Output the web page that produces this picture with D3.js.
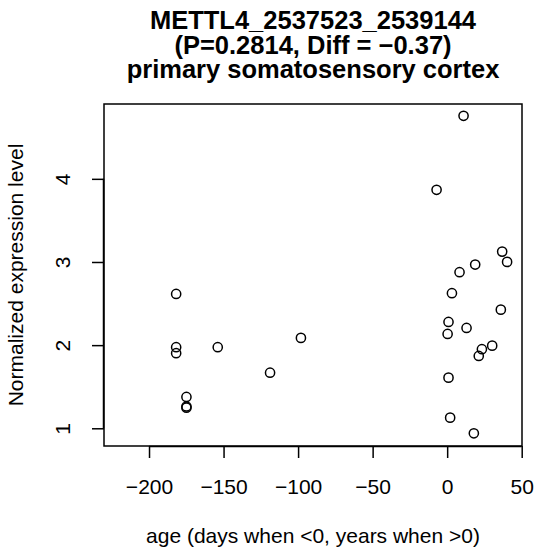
<!DOCTYPE html>
<html><head><meta charset="utf-8">
<script src="https://cdn.jsdelivr.net/npm/d3@7"></script>
<style>body{margin:0;background:#fff}svg{display:block}text{font-family:"Liberation Sans",Arial,sans-serif;fill:#000}</style>
</head><body>
<script>
const ageValues = [-181.8,-181.8,-181.8,-153.9,-98.1,-118.8,-174.9,-174.9,-174.9,
  11.0,-7.1,36.9,40.2,18.8,8.3,3.2,36.0,0.9,13.0,0.3,30.2,23.3,21.2,0.9,2.0,17.9];
const exprValues = [2.616,1.975,1.903,1.975,2.087,1.669,1.377,1.262,1.248,
  4.758,3.868,3.125,3.001,2.969,2.877,2.625,2.427,2.279,2.207,2.135,1.994,1.951,1.870,1.609,1.128,0.940];
const xTicks = [-200,-150,-100,-50,0,50];
const yTicks = [1,2,3,4];
const titleLines = ["METTL4_2537523_2539144","(P=0.2814, Diff = \u22120.37)","primary somatosensory cortex"];
const xLabel = "age (days when <0, years when >0)";
const yLabel = "Normalized expression level";

const W=536,H=555, L=104,R=522,T=104,B=446;
const FS="21px", FF="Liberation Sans, Arial, sans-serif";
const svg=d3.select("body").append("svg").attr("width",W).attr("height",H);
const x=d3.scaleLinear().domain([-230.2,50.2]).range([L,R]);
const y=d3.scaleLinear().domain([0.787,4.90]).range([B,T]);
const fmt=d=>String(d).replace("-","\u2212");

svg.append("rect").attr("x",L).attr("y",T).attr("width",R-L).attr("height",B-T)
  .attr("fill","none").attr("stroke","#000").attr("stroke-width",1.5);

const xa=svg.append("g").attr("transform",`translate(0,${B})`)
  .call(d3.axisBottom(x).tickValues(xTicks).tickSize(12).tickFormat(fmt));
xa.select(".domain").attr("d",`M${x(-200)},0.5H${x(50)}`).attr("stroke-width",1.5);
xa.selectAll(".tick line").attr("stroke-width",1.5);
xa.selectAll(".tick text").attr("y",null).attr("dy",null).attr("transform","translate(0,48)")
  .style("font-size",FS).style("font-family",FF);

const ya=svg.append("g").attr("transform",`translate(${L},0)`)
  .call(d3.axisLeft(y).tickValues(yTicks).tickSize(12).tickFormat(fmt));
ya.select(".domain").attr("d",`M-0.5,${y(1)}V${y(4)}`).attr("stroke-width",1.5);
ya.selectAll(".tick line").attr("stroke-width",1.5);
ya.selectAll(".tick text").attr("x",null).attr("dy",null)
  .attr("transform","translate(-34,0) rotate(-90)").attr("text-anchor","middle")
  .style("font-size",FS).style("font-family",FF);

svg.append("g").selectAll("circle").data(ageValues).join("circle")
  .attr("cx",(d)=>x(d)).attr("cy",(d,i)=>y(exprValues[i])).attr("r",4.6)
  .attr("fill","none").attr("stroke","#000").attr("stroke-width",1.5);

const cx=(L+R)/2;
svg.append("g").selectAll("text").data(titleLines).join("text")
  .attr("x",cx).attr("y",(d,i)=>29+i*24.5).attr("text-anchor","middle")
  .style("font-size","25.5px").style("font-weight","bold").text(d=>d);
svg.append("text").attr("x",cx).attr("y",543).attr("text-anchor","middle").style("font-size",FS).text(xLabel);
svg.append("text").attr("transform",`translate(23,${(T+B)/2}) rotate(-90)`).attr("text-anchor","middle").style("font-size",FS).text(yLabel);
</script>
</body></html>
